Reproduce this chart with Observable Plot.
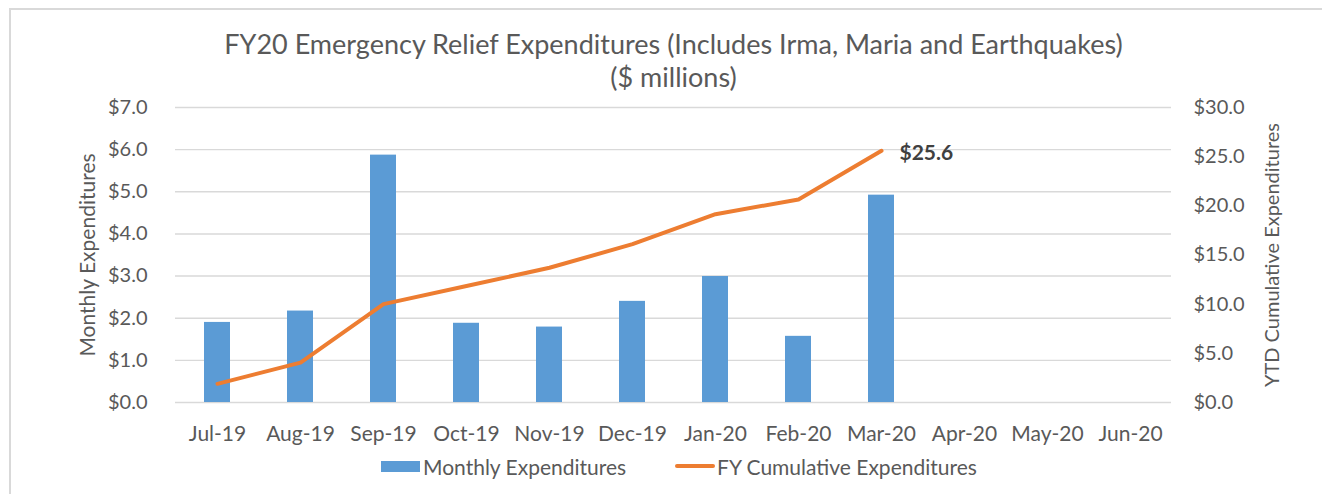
<!DOCTYPE html>
<html>
<head>
<meta charset="utf-8">
<script src="https://cdn.jsdelivr.net/npm/d3@7"></script>
<script src="https://cdn.jsdelivr.net/npm/@observablehq/plot@0.6"></script>
<style>
  html, body { margin: 0; padding: 0; background: #fff; }
  #wrap { position: relative; width: 1322px; height: 494px; overflow: hidden; font-family: Lato, "Open Sans", sans-serif; color: #595959; }
  #frame { position: absolute; left: 9px; top: 8px; width: 1400px; height: 600px; border: 2px solid #d9d9d9; box-sizing: border-box; }
  #chart { position: absolute; left: 0; top: 0; }
  #legend { position: absolute; top: 453px; left: 0; width: 1322px; height: 26px; }
  .li { position: absolute; top: 0; display: flex; align-items: center; font-size: 21px; height: 26px; white-space: nowrap; }
  .sw-bar { width: 39px; height: 11px; background: #5b9bd5; margin-right: 3px; }
  .sw-line { width: 40px; height: 4px; background: #ed7d31; margin-right: 2px; border-radius: 2px; }
</style>
</head>
<body>
<div id="wrap">
  <div id="frame"></div>
  <div id="chart"></div>
  <div id="legend">
    <div class="li" style="left:381px"><div class="sw-bar"></div><span>Monthly Expenditures</span></div>
    <div class="li" style="left:675px"><div class="sw-line"></div><span>FY Cumulative Expenditures</span></div>
  </div>
</div>
<script>
const titleLine1 = "FY20 Emergency Relief Expenditures (Includes Irma, Maria and Earthquakes)";
const titleLine2 = "($ millions)";
const leftLabel = "Monthly Expenditures";
const rightLabel = "YTD Cumulative Expenditures";

const months = ["Jul-19", "Aug-19", "Sep-19", "Oct-19", "Nov-19", "Dec-19", "Jan-20", "Feb-20", "Mar-20", "Apr-20", "May-20", "Jun-20"];
const monthly = [1.9, 2.17, 5.87, 1.88, 1.79, 2.4, 2.99, 1.57, 4.92];
const cumulative = [1.9, 4.05, 10.0, 11.85, 13.7, 16.1, 19.15, 20.65, 25.6];
const leftTicks = [0, 1, 2, 3, 4, 5, 6, 7];
const rightTicks = [0, 5, 10, 15, 20, 25, 30];
const lastLabel = "$25.6";

const leftMax = 7, rightMax = 30;
const k = leftMax / rightMax;

const bars = monthly.map((v, i) => ({month: months[i], value: v}));
const line = cumulative.map((v, i) => ({month: months[i], value: v * k}));
const last = [line[line.length - 1]];

const font = "Lato, 'Open Sans', sans-serif";
const gray = "#595959";

const chart = Plot.plot({
  width: 1322,
  height: 494,
  marginLeft: 175,
  marginRight: 151,
  marginTop: 107,
  marginBottom: 92,
  style: {fontFamily: font, color: gray, background: "transparent", overflow: "visible"},
  x: {domain: months, paddingInner: 0.69, paddingOuter: 0.345},
  y: {domain: [0, leftMax]},
  marks: [
    Plot.gridY(leftTicks, {stroke: "#d9d9d9", strokeOpacity: 1, strokeWidth: 1.4}),
    Plot.axisY(leftTicks, {anchor: "left", tickSize: 0, tickPadding: 28, fontSize: 20, fill: gray,
      tickFormat: d => "$" + d.toFixed(1), label: null}),
    Plot.axisY(rightTicks.map(v => v * k), {anchor: "right", tickSize: 0, tickPadding: 22, fontSize: 20, fill: gray,
      tickFormat: d => "$" + (d / k).toFixed(1), label: null}),
    Plot.axisX({tickSize: 0, tickPadding: 24, fontSize: 21, fill: gray, label: null}),
    Plot.barY(bars, {x: "month", y: "value", fill: "#5b9bd5"}),
    Plot.line(line, {x: "month", y: "value", stroke: "#ed7d31", strokeWidth: 4, strokeLinejoin: "round", strokeLinecap: "round"}),
    Plot.text(last, {x: "month", y: "value", text: () => lastLabel, textAnchor: "start", dx: 18, dy: 2,
      fontSize: 21, fontWeight: "bold", fill: "#404040"}),
    Plot.text([titleLine1], {frameAnchor: "top", lineAnchor: "middle", dy: -62, fontSize: 27, fill: gray, text: d => d}),
    Plot.text([titleLine2], {frameAnchor: "top", lineAnchor: "middle", dy: -29, fontSize: 27, fill: gray, text: d => d}),
    Plot.text([leftLabel], {frameAnchor: "left", textAnchor: "middle", lineAnchor: "middle", dx: -87, rotate: -90, fontSize: 21, fill: gray, text: d => d}),
    Plot.text([rightLabel], {frameAnchor: "right", textAnchor: "middle", lineAnchor: "middle", dx: 101, rotate: -90, fontSize: 20, fill: gray, text: d => d})
  ]
});
document.getElementById("chart").appendChild(chart);
</script>
</body>
</html>
